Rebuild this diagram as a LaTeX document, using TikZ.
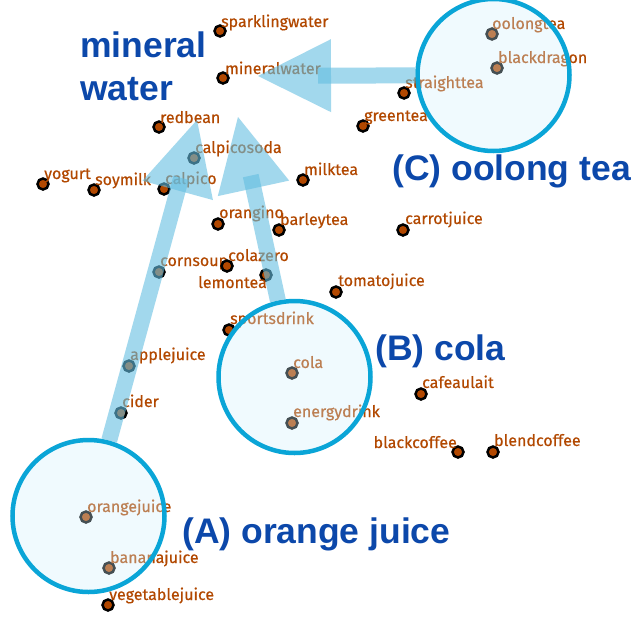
\documentclass[tikz,border=0pt]{standalone}
\usepackage{fontspec}
\setmainfont{Fira Sans}
\newfontfamily\lblfont[FakeBold=0.5]{Fira Sans}
\newfontfamily\titlefont{Liberation Sans}
\usetikzlibrary{calc}
\definecolor{lab}{RGB}{178,72,0}
\definecolor{ttlc}{RGB}{12,72,170}
\definecolor{arr}{RGB}{100,190,225}
\definecolor{ring}{RGB}{10,165,215}
\definecolor{cfill}{RGB}{210,240,252}
\newcommand{\drink}[6]{%
  \node[dot] (#1) at (#2,#3) {};
  \node[lbl] (#1-l) at (#4,#5) {#6};}
\newcommand{\drinkL}[6]{%
  \node[dot] (#1) at (#2,#3) {};
  \node[lbl,anchor=base east] (#1-l) at (#4,#5) {#6};}
\begin{document}
\begin{tikzpicture}[x=1pt,y=-1pt,
  dot/.style={circle,draw=black,line width=2.5pt,fill=lab,minimum size=11pt,inner sep=0pt},
  lbl/.style={text=lab,font=\lblfont\fontsize{16}{19}\selectfont,inner sep=0pt,anchor=base west},
  ttl/.style={text=ttlc,font=\titlefont\bfseries\fontsize{35.5}{43}\selectfont,inner sep=0pt,anchor=base west},
  grp/.style={circle,draw=ring,line width=4.5pt,fill=cfill,fill opacity=0.33,draw opacity=1,inner sep=0pt,minimum size=152pt},
  shaft/.style={draw=arr,line width=16pt,opacity=0.6,line cap=butt},
  head/.style={fill=arr,opacity=0.6}]
\fill[white] (0,0) rectangle (640,640);
\useasboundingbox (0,0) rectangle (640,640);
% points
\drink{sparklingwater}{220}{31}{221}{27}{sparklingwater}
\drink{mineralwater}{223}{78}{225}{74}{mineralwater}
\drink{redbean}{159}{127}{160}{123}{redbean}
\drink{calpicosoda}{194}{158}{195}{153}{calpicosoda}
\drink{yogurt}{43}{184}{44}{179}{yogurt}
\drink{soymilk}{94}{190}{95}{185}{soymilk}
\drink{calpico}{164}{189}{165}{184}{calpico}
\drink{milktea}{303}{180}{304}{175}{milktea}
\drink{oolongtea}{492}{34}{492}{29}{oolongtea}
\drink{blackdragon}{497}{68}{498}{63}{blackdragon}
\drink{straighttea}{404}{93}{405}{88}{straighttea}
\drink{greentea}{363}{126}{364}{121}{greentea}
\drink{orangino}{218}{224}{219}{218}{orangino}
\drink{barleytea}{279}{230}{280}{225}{barleytea}
\drink{carrotjuice}{403}{230}{405}{224}{carrotjuice}
\drink{cornsoup}{159}{272}{160}{266}{cornsoup}
\drink{colazero}{227}{266}{228}{261}{colazero}
\drinkL{lemontea}{266}{275}{267}{288}{lemontea}
\drink{tomatojuice}{336}{292}{338}{286}{tomatojuice}
\drink{sportsdrink}{229}{330}{230}{324}{sportsdrink}
\drink{applejuice}{129}{366}{130}{360}{applejuice}
\drink{cola}{292}{373}{293}{368}{cola}
\drink{cafeaulait}{421}{394}{422}{388}{cafeaulait}
\drink{cider}{121}{413}{122}{407}{cider}
\drink{energydrink}{292}{423}{293}{417}{energydrink}
\drinkL{blackcoffee}{458}{452}{457}{448}{blackcoffee}
\drink{blendcoffee}{493}{452}{494}{446}{blendcoffee}
\drink{orangejuice}{86}{517}{87}{512}{orangejuice}
\drink{bananajuice}{109}{568}{110}{563}{bananajuice}
\drink{vegetablejuice}{108}{605}{109}{600}{vegetablejuice}
% group circles
\node[grp] (gA) at (88.5,516) {};
\node[grp] (gB) at (294.5,377) {};
\node[grp] (gC) at (493.5,75) {};
% arrows
\coordinate (tipA) at (197,120);
\coordinate (tipB) at (238,117);
\coordinate (tipC) at (258,76);
\foreach \g/\t in {gA/tipA,gB/tipB,gC/tipC}{
  \draw[shaft,shorten >=60pt] (\g) -- (\t);
  \coordinate (b) at ($(\t)!73pt!(\g)$);
  \fill[head] (\t) -- ($(b)!36.5pt!90:(\t)$) -- ($(b)!36.5pt!-90:(\t)$) -- cycle;
}
% titles
\node[ttl,align=left] (tmw) at (80,100) {mineral\\water};
\node[ttl] (tA) at (182,543) {(A) orange juice};
\node[ttl] (tB) at (375,360) {(B) cola};
\node[ttl] (tC) at (392,180) {(C) oolong tea};
\end{tikzpicture}
\end{document}
